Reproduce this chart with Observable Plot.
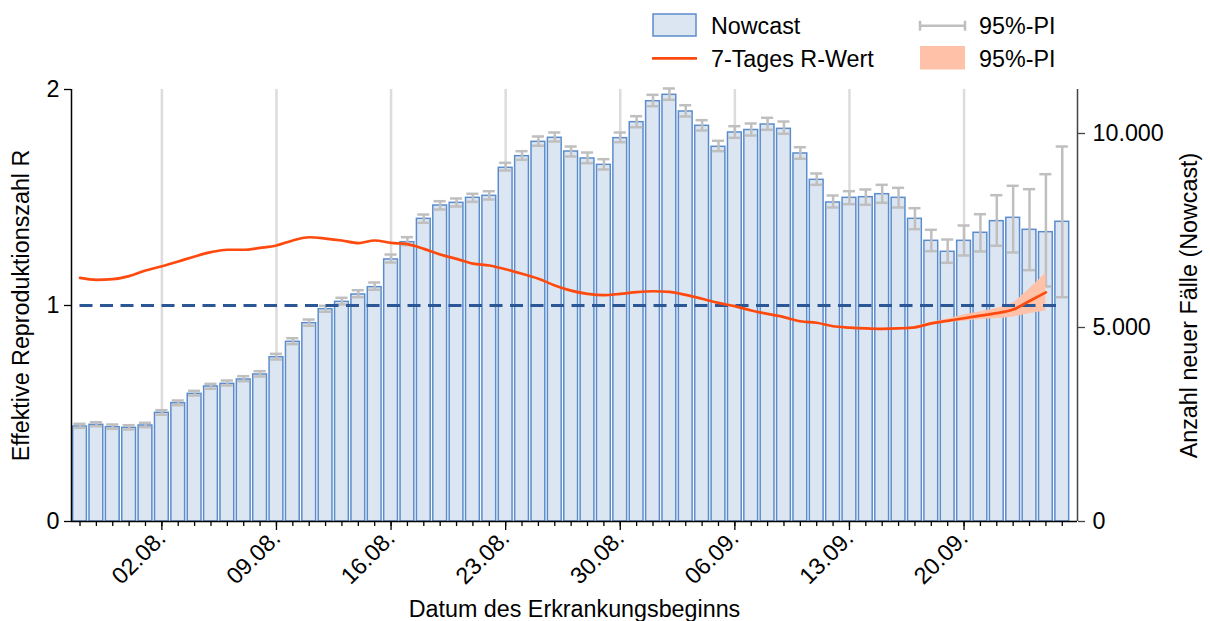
<!DOCTYPE html>
<html>
<head>
<meta charset="utf-8">
<script src="https://cdn.jsdelivr.net/npm/d3@7"></script>
<script src="https://cdn.jsdelivr.net/npm/@observablehq/plot@0.6"></script>
<style>
  html, body { margin: 0; padding: 0; background: #fff; }
  body { width: 1210px; height: 621px; overflow: hidden; font-family: "Liberation Sans", Arial, sans-serif; }
  #legend { display: block; }
</style>
</head>
<body>
<svg id="legend" width="1210" height="75" font-family="Liberation Sans, Arial, sans-serif" font-size="23.3">
  <rect x="653" y="14" width="43" height="22" fill="#dce6f2" stroke="#5b8ccc" stroke-width="1.5"></rect>
  <text x="711" y="33.5">Nowcast</text>
  <line x1="652" x2="697" y1="58.3" y2="58.3" stroke="#fe4a0e" stroke-width="2.7"></line>
  <text x="711" y="66.7">7-Tages R-Wert</text>
  <line x1="920" x2="965" y1="25.7" y2="25.7" stroke="#bfbfbf" stroke-width="2.5"></line>
  <line x1="920" x2="920" y1="20.7" y2="30.7" stroke="#bfbfbf" stroke-width="2.5"></line>
  <line x1="965" x2="965" y1="20.7" y2="30.7" stroke="#bfbfbf" stroke-width="2.5"></line>
  <text x="979" y="33.5">95%-PI</text>
  <rect x="920" y="46" width="45" height="23.5" fill="#ffc2a8"></rect>
  <text x="979" y="66.7">95%-PI</text>
</svg>
<div id="chart"></div>
<script>
// ---- data ----
const dates = [
  "2020-07-28","2020-07-29","2020-07-30","2020-07-31","2020-08-01","2020-08-02","2020-08-03","2020-08-04",
  "2020-08-05","2020-08-06","2020-08-07","2020-08-08","2020-08-09","2020-08-10","2020-08-11","2020-08-12",
  "2020-08-13","2020-08-14","2020-08-15","2020-08-16","2020-08-17","2020-08-18","2020-08-19","2020-08-20",
  "2020-08-21","2020-08-22","2020-08-23","2020-08-24","2020-08-25","2020-08-26","2020-08-27","2020-08-28",
  "2020-08-29","2020-08-30","2020-08-31","2020-09-01","2020-09-02","2020-09-03","2020-09-04","2020-09-05",
  "2020-09-06","2020-09-07","2020-09-08","2020-09-09","2020-09-10","2020-09-11","2020-09-12","2020-09-13",
  "2020-09-14","2020-09-15","2020-09-16","2020-09-17","2020-09-18","2020-09-19","2020-09-20","2020-09-21",
  "2020-09-22","2020-09-23","2020-09-24","2020-09-25","2020-09-26"
];
const nowcast = [2448,2492,2431,2414,2474,2801,3050,3290,3479,3548,3660,3789,4235,4631,5112,5472,5661,5851,6040,6753,
  7199,7800,8144,8213,8342,8393,9115,9416,9785,9889,9536,9356,9192,9880,10292,10832,10997,10567,10198,9657,
  10026,10090,10232,10120,9485,8806,8222,8342,8359,8436,8342,7801,7234,6951,7234,7441,7741,7827,7518,7457,7724];
const nowcastLo = [2415,2456,2389,2371,2431,2750,2998,3247,3420,3505,3616,3737,4175,4570,5044,5405,5593,5781,5972,6675,
  7121,7698,8041,8119,8239,8299,9046,9322,9683,9794,9407,9235,9072,9776,10162,10704,10868,10438,10077,9544,
  9889,9948,10095,9992,9348,8677,8093,8178,8162,8214,8093,7534,6967,6667,6856,6959,7106,6933,6477,6057,5781];
const nowcastHi = [2518,2559,2500,2482,2544,2869,3119,3368,3548,3634,3745,3874,4321,4724,5206,5559,5765,5961,6160,6881,
  7328,7912,8255,8325,8446,8513,9245,9544,9923,10026,9665,9510,9338,10026,10446,10997,11160,10729,10343,9812,
  10188,10258,10405,10309,9647,8969,8402,8513,8557,8677,8600,8075,7518,7268,7629,7920,8410,8652,8565,8951,9665];
const rValue = [1.128,1.119,1.122,1.136,1.162,1.182,1.204,1.227,1.247,1.258,1.258,1.267,1.278,1.301,1.316,1.310,1.301,1.289,1.301,1.290,
  1.284,1.262,1.236,1.216,1.194,1.185,1.168,1.147,1.124,1.093,1.069,1.054,1.048,1.054,1.062,1.066,1.063,1.049,1.031,1.012,
  0.997,0.977,0.961,0.946,0.927,0.920,0.904,0.898,0.894,0.892,0.894,0.899,0.917,0.929,0.941,0.953,0.965,0.981,1.021,1.061];
const rBandDates = ["2020-09-17","2020-09-18","2020-09-19","2020-09-20","2020-09-21","2020-09-22","2020-09-23","2020-09-24","2020-09-25"];
const rLo = [0.895,0.913,0.922,0.927,0.935,0.940,0.947,0.962,0.975];
const rHi = [0.903,0.922,0.937,0.957,0.970,0.987,1.012,1.077,1.150];
const weekTickDates = ["2020-08-02","2020-08-09","2020-08-16","2020-08-23","2020-08-30","2020-09-06","2020-09-13","2020-09-20"];
const rTicks = [0, 1, 2];
const caseTicks = [0, 5000, 10000];
const rRef = 1;

// ---- setup ----
const K = 5567; // cases per one unit of R (right axis vs left axis)
const DAY = 864e5;
const FS = 23.3;
const parse = s => new Date(s + "T00:00:00Z");
const bars = dates.map((d, i) => ({date: parse(d), v: nowcast[i], lo: nowcastLo[i], hi: nowcastHi[i]}));
const rline = rValue.map((r, i) => ({date: parse(dates[i]), r}));
const band = rBandDates.map((d, i) => ({date: parse(d), lo: rLo[i], hi: rHi[i]}));
const weeks = weekTickDates.map(parse);
const allDays = dates.map(parse);
const xDomain = [new Date(+allDays[0] - 0.52 * DAY), new Date(+allDays[allDays.length - 1] + 0.93 * DAY)];
const de = d3.formatLocale({decimal: ",", thousands: ".", grouping: [3], currency: ["", "€"]});
const fmtCases = de.format(",d");
const fmtDate = d3.utcFormat("%d.%m.");
const shift = (d, f) => new Date(+d + f * DAY);

const chart = Plot.plot({
  width: 1210,
  height: 546,
  marginTop: 14,
  marginBottom: 100,
  marginLeft: 71,
  marginRight: 133,
  style: {fontFamily: "Liberation Sans, Arial, sans-serif", fontSize: FS + "px", color: "#000", background: "#fff"},
  x: {type: "utc", domain: xDomain},
  y: {domain: [0, 2]},
  marks: [
    Plot.ruleX(weeks, {stroke: "#dcdcdc", strokeWidth: 2.5}),
    Plot.rectY(bars, {x1: d => shift(d.date, -0.5), x2: d => shift(d.date, 0.5), y1: 0, y2: d => d.v / K,
      insetLeft: 1.3, insetRight: 1.3, fill: "#dce6f2", stroke: "#5b8ccc", strokeWidth: 1.5}),
    Plot.ruleX(bars, {x: "date", y1: d => d.lo / K, y2: d => d.hi / K, stroke: "#bfbfbf", strokeWidth: 2.5}),
    Plot.ruleY(bars, {y: d => d.lo / K, x1: d => shift(d.date, -0.37), x2: d => shift(d.date, 0.37), stroke: "#bfbfbf", strokeWidth: 2.5}),
    Plot.ruleY(bars, {y: d => d.hi / K, x1: d => shift(d.date, -0.37), x2: d => shift(d.date, 0.37), stroke: "#bfbfbf", strokeWidth: 2.5}),
    Plot.areaY(band, {x: "date", y1: "lo", y2: "hi", fill: "#ffc2a8", curve: "monotone-x"}),
    Plot.ruleY([rRef], {x1: allDays[0], x2: allDays[allDays.length - 1], stroke: "#2b5797", strokeWidth: 3, strokeDasharray: "13,7.5"}),
    Plot.line(rline, {x: "date", y: "r", stroke: "#fe4a0e", strokeWidth: 2.7, curve: "monotone-x"}),
    // axis lines
    Plot.ruleY([0], {stroke: "#000", strokeWidth: 1.5}),
    Plot.ruleX([xDomain[0]], {stroke: "#000", strokeWidth: 1.5}),
    Plot.ruleX([xDomain[1]], {stroke: "#444", strokeWidth: 1.5}),
    // axes
    Plot.axisY({ticks: rTicks, tickFormat: d => String(d), tickSize: 7, tickPadding: 5, label: null, strokeWidth: 1.3}),
    Plot.axisY({anchor: "right", ticks: caseTicks.map(v => v / K), tickFormat: d => fmtCases(Math.round(d * K)),
      tickSize: 7, tickPadding: 8, label: null, stroke: "#444", strokeWidth: 1.3}),
    Plot.axisX({ticks: allDays, tickSize: 5, tickFormat: () => "", label: null, strokeWidth: 1.3}),
    Plot.axisX({ticks: weeks, tickSize: 9, tickRotate: -45, tickPadding: 4, tickFormat: fmtDate, label: null, strokeWidth: 1.3}),
    // axis titles
    Plot.text(["Effektive Reproduktionszahl R"], {frameAnchor: "left", rotate: -90, dx: -50, textAnchor: "middle", lineAnchor: "middle", fontSize: FS}),
    Plot.text(["Anzahl neuer Fälle (Nowcast)"], {frameAnchor: "right", rotate: -90, dx: 112, textAnchor: "middle", lineAnchor: "middle", fontSize: FS}),
    Plot.text(["Datum des Erkrankungsbeginns"], {frameAnchor: "bottom", dy: 88, textAnchor: "middle", lineAnchor: "middle", fontSize: FS})
  ]
});
document.getElementById("chart").appendChild(chart);
</script>
</body>
</html>
